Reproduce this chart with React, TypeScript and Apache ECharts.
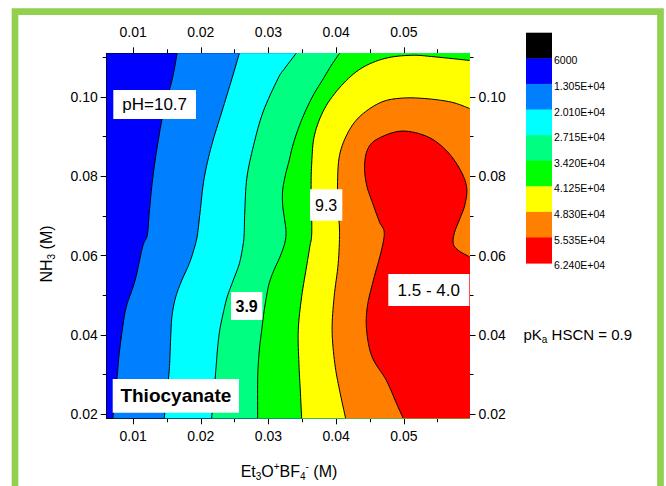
import React, { useEffect, useRef } from "react";
import * as echarts from "echarts";

// ---- axis ranges and ticks ----
const X_RANGE = [0.0061, 0.0597];
const Y_RANGE = [0.019, 0.111];
const xMajorTicks = [0.01, 0.02, 0.03, 0.04, 0.05];
const xMinorTicks = [0.015, 0.025, 0.035, 0.045, 0.055];
const yMajorTicks = [0.02, 0.04, 0.06, 0.08, 0.1];
const yMinorTicks = [0.03, 0.05, 0.07, 0.09, 0.11];

// ---- contour lines [Et3O+BF4- (M), NH3 (M)] ----
const contour13050 = [[0.0165,0.1110],[0.0158,0.1046],[0.0145,0.0962],[0.0136,0.0878],[0.0129,0.0795],[0.0124,0.0710],[0.0121,0.0652],[0.0114,0.0622],[0.0103,0.0538],[0.0090,0.0471],[0.0084,0.0412],[0.0079,0.0345],[0.0076,0.0286],[0.0070,0.0190]];
const contour20100 = [[0.0257,0.1110],[0.0246,0.1046],[0.0231,0.0962],[0.0216,0.0878],[0.0205,0.0795],[0.0199,0.0710],[0.0195,0.0652],[0.0191,0.0622],[0.0183,0.0580],[0.0172,0.0538],[0.0163,0.0496],[0.0158,0.0454],[0.0156,0.0412],[0.0154,0.0328],[0.0152,0.0286],[0.0146,0.0190]];
const contour27150 = [[0.0341,0.1110],[0.0324,0.1072],[0.0314,0.1046],[0.0292,0.0962],[0.0278,0.0878],[0.0268,0.0795],[0.0265,0.0710],[0.0264,0.0652],[0.0262,0.0622],[0.0257,0.0580],[0.0248,0.0538],[0.0239,0.0496],[0.0233,0.0454],[0.0228,0.0412],[0.0225,0.0370],[0.0223,0.0328],[0.0221,0.0286],[0.0216,0.0190]];
const contour34200 = [[0.0405,0.1110],[0.0393,0.1080],[0.0381,0.1046],[0.0366,0.1004],[0.0354,0.0962],[0.0344,0.0920],[0.0336,0.0878],[0.0330,0.0836],[0.0325,0.0803],[0.0321,0.0765],[0.0321,0.0727],[0.0324,0.0689],[0.0326,0.0659],[0.0324,0.0631],[0.0317,0.0597],[0.0308,0.0563],[0.0301,0.0530],[0.0297,0.0496],[0.0293,0.0454],[0.0290,0.0412],[0.0287,0.0370],[0.0285,0.0328],[0.0284,0.0286],[0.0284,0.0190]];
const contour41250 = [[0.0597,0.1092],[0.0546,0.1101],[0.0511,0.1105],[0.0472,0.1097],[0.0437,0.1072],[0.0408,0.1029],[0.0383,0.0971],[0.0368,0.0904],[0.0364,0.0836],[0.0363,0.0769],[0.0364,0.0660],[0.0361,0.0622],[0.0357,0.0580],[0.0349,0.0496],[0.0344,0.0412],[0.0345,0.0328],[0.0347,0.0261],[0.0349,0.0190]];
const contour48300 = [[0.0597,0.0971],[0.0570,0.0987],[0.0531,0.0996],[0.0497,0.0997],[0.0467,0.0987],[0.0437,0.0954],[0.0418,0.0912],[0.0405,0.0853],[0.0402,0.0778],[0.0403,0.0715],[0.0405,0.0659],[0.0403,0.0580],[0.0397,0.0496],[0.0394,0.0412],[0.0398,0.0328],[0.0405,0.0261],[0.0414,0.0190]];
const contour55350 = [[0.0597,0.0597],[0.0580,0.0614],[0.0573,0.0631],[0.0575,0.0659],[0.0583,0.0694],[0.0590,0.0727],[0.0593,0.0769],[0.0585,0.0811],[0.0565,0.0861],[0.0536,0.0899],[0.0497,0.0914],[0.0462,0.0895],[0.0447,0.0870],[0.0442,0.0828],[0.0445,0.0778],[0.0455,0.0727],[0.0464,0.0685],[0.0471,0.0659],[0.0467,0.0614],[0.0455,0.0538],[0.0446,0.0471],[0.0445,0.0412],[0.0453,0.0345],[0.0474,0.0286],[0.0489,0.0228],[0.0499,0.0190]];
const contourLines = [contour13050, contour20100, contour27150, contour34200, contour41250, contour48300, contour55350];

// ---- colours and legend ----
const bandColors = ["#0000FF", "#0080FF", "#00FFFF", "#00FF80", "#00FF00", "#FFFF00", "#FF8000", "#FF0000"];
const legendColors = ["#000000", ...bandColors];
const legendLabels = ["6000", "1.305E+04", "2.010E+04", "2.715E+04", "3.420E+04", "4.125E+04", "4.830E+04", "5.535E+04", "6.240E+04"];

const FONT = "Liberation Sans, Arial, sans-serif";

function smoothPts(pts: number[][], seg = 8): number[][] {
  const out: number[][] = [];
  const n = pts.length;
  for (let i = 0; i < n - 1; i++) {
    const p0 = pts[Math.max(i - 1, 0)], p1 = pts[i], p2 = pts[i + 1], p3 = pts[Math.min(i + 2, n - 1)];
    for (let s = 0; s < seg; s++) {
      const t = s / seg, t2 = t * t, t3 = t2 * t;
      const f = (k: number) =>
        0.5 * (2 * p1[k] + (-p0[k] + p2[k]) * t + (2 * p0[k] - 5 * p1[k] + 4 * p2[k] - p3[k]) * t2 + (-p0[k] + 3 * p1[k] - 3 * p2[k] + p3[k]) * t3);
      out.push([f(0), f(1)]);
    }
  }
  out.push(pts[n - 1]);
  return out;
}

const tickLine = { color: "#000", width: 1 };

function xAxisDef(position: string, minor: boolean, margin: number) {
  return {
    type: "value", position, min: X_RANGE[0], max: X_RANGE[1], gridIndex: 0,
    axisLine: { show: !minor, onZero: false, lineStyle: tickLine },
    axisTick: { show: true, inside: false, length: minor ? 4 : 6, customValues: minor ? xMinorTicks : xMajorTicks, lineStyle: tickLine },
    axisLabel: minor ? { show: false } : { show: true, customValues: xMajorTicks, margin, color: "#000", fontSize: 14, fontFamily: FONT, formatter: (v: number) => v.toFixed(2) },
    splitLine: { show: false },
  };
}
function yAxisDef(position: string, minor: boolean) {
  return {
    type: "value", position, min: Y_RANGE[0], max: Y_RANGE[1], gridIndex: 0,
    axisLine: { show: !minor, onZero: false, lineStyle: tickLine },
    axisTick: { show: true, inside: false, length: minor ? 4 : 6, customValues: minor ? yMinorTicks : yMajorTicks, lineStyle: tickLine },
    axisLabel: minor ? { show: false } : { show: true, customValues: yMajorTicks, margin: 9, color: "#000", fontSize: 14, fontFamily: FONT, formatter: (v: number) => v.toFixed(2) },
    splitLine: { show: false },
  };
}

function labelBox(x: number, y: number, w: number, h: number, text: string, size: number, bold: boolean) {
  return [
    { type: "rect", shape: { x, y, width: w, height: h }, style: { fill: "#fff" }, z: 100 },
    { type: "text", x: x + w / 2, y: y + h / 2, z: 101, style: { text, fill: "#000", fontSize: size, fontWeight: bold ? "bold" : "normal", fontFamily: FONT, align: "center", verticalAlign: "middle" } },
  ];
}

export default function App() {
  const ref = useRef<HTMLDivElement>(null);
  useEffect(() => {
    if (!ref.current) return;
    const chart = echarts.init(ref.current, null, { renderer: "svg" });
    const legendTop = 32.7, legendStep = 25.6;
    const graphics: any[] = [
      { type: "rect", shape: { x: 15, y: 11.7, width: 645.5, height: 520 }, style: { fill: "none", stroke: "#92D050", lineWidth: 6.7 }, z: 0 },
    ];
    legendColors.forEach((c, i) => {
      graphics.push({ type: "rect", shape: { x: 526, y: legendTop + legendStep * i, width: 26, height: legendStep + 0.5 }, style: { fill: c }, z: 10 });
    });
    legendLabels.forEach((t, i) => {
      graphics.push({ type: "text", x: 554, y: legendTop + legendStep * (i + 1) + 2, z: 10, style: { text: t, fill: "#000", fontSize: 10.5, fontFamily: FONT, align: "left", verticalAlign: "middle" } });
    });
    graphics.push(...labelBox(113.3, 90, 82.7, 29, "pH=10.7", 17, false));
    graphics.push(...labelBox(310, 189.3, 32.3, 31.4, "9.3", 16, false));
    graphics.push(...labelBox(231, 292, 31.3, 28, "3.9", 16, true));
    graphics.push(...labelBox(388.3, 274, 81, 32, "1.5 - 4.0", 17, false));
    graphics.push(...labelBox(112.7, 379, 126.3, 33.7, "Thiocyanate", 19, true));
    const base = { fontSize: 16, fontFamily: FONT, fill: "#000", lineHeight: 20, verticalAlign: "middle" };
    const sub = { fontSize: 10, fontFamily: FONT, fill: "#000", lineHeight: 12, verticalAlign: "bottom" };
    const sup = { fontSize: 10, fontFamily: FONT, fill: "#000", lineHeight: 12, verticalAlign: "top" };
    graphics.push({
      type: "text", x: 46, y: 254, rotation: Math.PI / 2, z: 10,
      style: { text: "{n|NH}{s|3}{n| (M)}", rich: { n: base, s: sub }, align: "center", verticalAlign: "middle" },
    });
    graphics.push({
      type: "text", x: 289, y: 471, z: 10,
      style: { text: "{n|Et}{s|3}{n|O}{p|+}{n|BF}{s|4}{p|-}{n| (M)}", rich: { n: base, s: sub, p: sup }, align: "center", verticalAlign: "middle" },
    });
    graphics.push({
      type: "text", x: 523.5, y: 334, z: 10,
      style: { text: "{n|pK}{s|a}{n| HSCN = 0.9}", rich: { n: { ...base, fontSize: 15 }, s: sub }, align: "left", verticalAlign: "middle" },
    });

    const option: any = {
      animation: false,
      backgroundColor: "#fff",
      grid: { left: 106.7, top: 53.3, right: 196.5, bottom: 67.7, containLabel: false, outerBoundsMode: "none" },
      xAxis: [xAxisDef("bottom", false, 11), xAxisDef("top", false, 14), xAxisDef("bottom", true, 0), xAxisDef("top", true, 0)],
      yAxis: [yAxisDef("left", false), yAxisDef("right", false), yAxisDef("left", true), yAxisDef("right", true)],
      series: [
        {
          type: "custom", xAxisIndex: 0, yAxisIndex: 0, clip: true, z: 2,
          data: bandColors.map((_, i) => [i]),
          renderItem: (params: any, api: any) => {
            const k = api.value(0);
            const cs = params.coordSys;
            if (k === 0) {
              return { type: "rect", shape: { x: cs.x, y: cs.y, width: cs.width, height: cs.height }, style: { fill: bandColors[0] } };
            }
            const line = contourLines[k - 1];
            const pts = smoothPts(line.map((p) => api.coord(p)));
            const startsOnTop = line[0][0] < X_RANGE[1] - 1e-6;
            if (startsOnTop) pts.unshift([pts[0][0], cs.y - 3]);
            pts.push([pts[pts.length - 1][0], cs.y + cs.height + 3]);
            pts.push([cs.x + cs.width + 3, cs.y + cs.height + 3]);
            if (startsOnTop) pts.push([cs.x + cs.width + 3, cs.y - 3]);
            else pts.push([cs.x + cs.width + 3, pts[0][1]]);
            return { type: "polygon", shape: { points: pts }, style: { fill: bandColors[k], stroke: null } };
          },
        },
        {
          type: "custom", xAxisIndex: 0, yAxisIndex: 0, clip: true, z: 3,
          data: contourLines.map((_, i) => [i]),
          renderItem: (params: any, api: any) => {
            const k = api.value(0);
            const pts = smoothPts(contourLines[k].map((p) => api.coord(p)));
            return { type: "polyline", shape: { points: pts }, style: { fill: null, stroke: "#000", lineWidth: 1 } };
          },
        },
      ],
      graphic: graphics,
    };
    chart.setOption(option);
    return () => chart.dispose();
  }, []);
  return <div ref={ref} style={{ position: "fixed", left: 0, top: 0, width: 666, height: 486, background: "#fff" }} />;
}
